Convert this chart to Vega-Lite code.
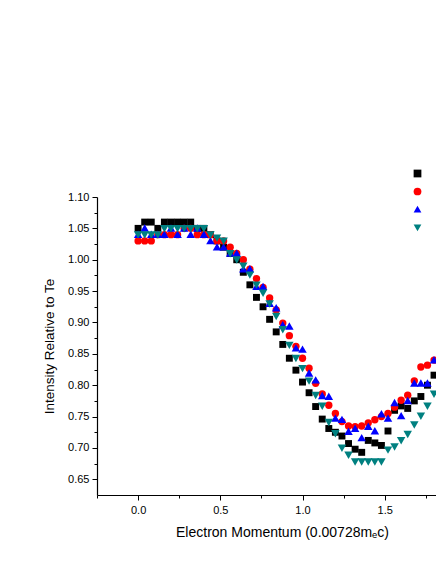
{
  "$schema": "https://vega.github.io/schema/vega-lite/v6.json",
  "autosize": {"type": "none"},
  "width": 339,
  "height": 298,
  "padding": {"left": 97, "top": 197, "right": 0, "bottom": 69},
  "background": "white",
  "config": {
    "view": {"stroke": null},
    "font": "Liberation Sans",
    "axis": {"grid": false, "domainColor": "#000000", "domainWidth": 1.2, "tickColor": "#000000", "tickWidth": 1, "labelColor": "#000000", "titleColor": "#000000", "labelFont": "Liberation Sans", "titleFont": "Liberation Sans", "labelFontSize": 11, "titleFontSize": 13.5, "titleFontWeight": "normal"},
    "legend": {"orient": "none", "legendX": 314, "legendY": -30, "title": null, "padding": 0, "rowPadding": 4, "labelFontSize": 13, "labelOffset": 45, "symbolStrokeWidth": 0, "symbolSize": 60}
  },
  "data": {"values": [
    {"series":"A","p":0,"i":1.05},{"series":"A","p":0.04,"i":1.06},{"series":"A","p":0.08,"i":1.06},{"series":"A","p":0.12,"i":1.05},{"series":"A","p":0.16,"i":1.06},{"series":"A","p":0.2,"i":1.06},{"series":"A","p":0.24,"i":1.06},{"series":"A","p":0.28,"i":1.06},{"series":"A","p":0.32,"i":1.06},{"series":"A","p":0.36,"i":1.05},{"series":"A","p":0.4,"i":1.05},{"series":"A","p":0.44,"i":1.04},{"series":"A","p":0.48,"i":1.03},{"series":"A","p":0.52,"i":1.02},{"series":"A","p":0.56,"i":1.01},{"series":"A","p":0.6,"i":1.0},{"series":"A","p":0.64,"i":0.98},{"series":"A","p":0.68,"i":0.96},{"series":"A","p":0.72,"i":0.94},{"series":"A","p":0.76,"i":0.925},{"series":"A","p":0.8,"i":0.905},{"series":"A","p":0.84,"i":0.885},{"series":"A","p":0.88,"i":0.865},{"series":"A","p":0.92,"i":0.843},{"series":"A","p":0.96,"i":0.824},{"series":"A","p":1.0,"i":0.805},{"series":"A","p":1.04,"i":0.788},{"series":"A","p":1.08,"i":0.766},{"series":"A","p":1.12,"i":0.746},{"series":"A","p":1.16,"i":0.731},{"series":"A","p":1.2,"i":0.725},{"series":"A","p":1.24,"i":0.719},{"series":"A","p":1.28,"i":0.707},{"series":"A","p":1.32,"i":0.698},{"series":"A","p":1.36,"i":0.693},{"series":"A","p":1.4,"i":0.712},{"series":"A","p":1.44,"i":0.708},{"series":"A","p":1.48,"i":0.704},{"series":"A","p":1.52,"i":0.727},{"series":"A","p":1.56,"i":0.76},{"series":"A","p":1.6,"i":0.767},{"series":"A","p":1.64,"i":0.763},{"series":"A","p":1.68,"i":0.775},{"series":"A","p":1.72,"i":0.782},{"series":"A","p":1.76,"i":0.8},{"series":"A","p":1.8,"i":0.816},
    {"series":"B","p":0,"i":1.03},{"series":"B","p":0.04,"i":1.03},{"series":"B","p":0.08,"i":1.03},{"series":"B","p":0.12,"i":1.04},{"series":"B","p":0.16,"i":1.04},{"series":"B","p":0.2,"i":1.04},{"series":"B","p":0.24,"i":1.04},{"series":"B","p":0.28,"i":1.05},{"series":"B","p":0.32,"i":1.05},{"series":"B","p":0.36,"i":1.04},{"series":"B","p":0.4,"i":1.04},{"series":"B","p":0.44,"i":1.04},{"series":"B","p":0.48,"i":1.03},{"series":"B","p":0.52,"i":1.03},{"series":"B","p":0.56,"i":1.02},{"series":"B","p":0.6,"i":1.01},{"series":"B","p":0.64,"i":1.0},{"series":"B","p":0.68,"i":0.985},{"series":"B","p":0.72,"i":0.97},{"series":"B","p":0.76,"i":0.956},{"series":"B","p":0.8,"i":0.939},{"series":"B","p":0.84,"i":0.92},{"series":"B","p":0.88,"i":0.899},{"series":"B","p":0.92,"i":0.879},{"series":"B","p":0.96,"i":0.862},{"series":"B","p":1.0,"i":0.843},{"series":"B","p":1.04,"i":0.827},{"series":"B","p":1.08,"i":0.803},{"series":"B","p":1.12,"i":0.786},{"series":"B","p":1.16,"i":0.768},{"series":"B","p":1.2,"i":0.755},{"series":"B","p":1.24,"i":0.742},{"series":"B","p":1.28,"i":0.735},{"series":"B","p":1.32,"i":0.734},{"series":"B","p":1.36,"i":0.735},{"series":"B","p":1.4,"i":0.74},{"series":"B","p":1.44,"i":0.745},{"series":"B","p":1.48,"i":0.75},{"series":"B","p":1.52,"i":0.755},{"series":"B","p":1.56,"i":0.765},{"series":"B","p":1.6,"i":0.776},{"series":"B","p":1.64,"i":0.784},{"series":"B","p":1.68,"i":0.807},{"series":"B","p":1.72,"i":0.829},{"series":"B","p":1.76,"i":0.832},{"series":"B","p":1.8,"i":0.84},
    {"series":"C","p":0,"i":1.04},{"series":"C","p":0.04,"i":1.05},{"series":"C","p":0.08,"i":1.04},{"series":"C","p":0.12,"i":1.04},{"series":"C","p":0.16,"i":1.04},{"series":"C","p":0.2,"i":1.05},{"series":"C","p":0.24,"i":1.04},{"series":"C","p":0.28,"i":1.05},{"series":"C","p":0.32,"i":1.04},{"series":"C","p":0.36,"i":1.05},{"series":"C","p":0.4,"i":1.04},{"series":"C","p":0.44,"i":1.03},{"series":"C","p":0.48,"i":1.02},{"series":"C","p":0.52,"i":1.02},{"series":"C","p":0.56,"i":1.01},{"series":"C","p":0.6,"i":1.01},{"series":"C","p":0.64,"i":0.985},{"series":"C","p":0.68,"i":0.985},{"series":"C","p":0.72,"i":0.957},{"series":"C","p":0.76,"i":0.957},{"series":"C","p":0.8,"i":0.93},{"series":"C","p":0.84,"i":0.923},{"series":"C","p":0.88,"i":0.896},{"series":"C","p":0.92,"i":0.894},{"series":"C","p":0.96,"i":0.859},{"series":"C","p":1.0,"i":0.857},{"series":"C","p":1.04,"i":0.819},{"series":"C","p":1.08,"i":0.808},{"series":"C","p":1.12,"i":0.783},{"series":"C","p":1.16,"i":0.782},{"series":"C","p":1.2,"i":0.747},{"series":"C","p":1.24,"i":0.745},{"series":"C","p":1.28,"i":0.726},{"series":"C","p":1.32,"i":0.731},{"series":"C","p":1.36,"i":0.716},{"series":"C","p":1.4,"i":0.734},{"series":"C","p":1.44,"i":0.727},{"series":"C","p":1.48,"i":0.754},{"series":"C","p":1.52,"i":0.747},{"series":"C","p":1.56,"i":0.772},{"series":"C","p":1.6,"i":0.751},{"series":"C","p":1.64,"i":0.775},{"series":"C","p":1.68,"i":0.803},{"series":"C","p":1.72,"i":0.803},{"series":"C","p":1.76,"i":0.803},{"series":"C","p":1.8,"i":0.84},
    {"series":"D","p":0,"i":1.04},{"series":"D","p":0.04,"i":1.04},{"series":"D","p":0.08,"i":1.04},{"series":"D","p":0.12,"i":1.04},{"series":"D","p":0.16,"i":1.05},{"series":"D","p":0.2,"i":1.05},{"series":"D","p":0.24,"i":1.05},{"series":"D","p":0.28,"i":1.05},{"series":"D","p":0.32,"i":1.05},{"series":"D","p":0.36,"i":1.05},{"series":"D","p":0.4,"i":1.05},{"series":"D","p":0.44,"i":1.04},{"series":"D","p":0.48,"i":1.035},{"series":"D","p":0.52,"i":1.03},{"series":"D","p":0.56,"i":1.01},{"series":"D","p":0.6,"i":1.0},{"series":"D","p":0.64,"i":0.99},{"series":"D","p":0.68,"i":0.976},{"series":"D","p":0.72,"i":0.96},{"series":"D","p":0.76,"i":0.947},{"series":"D","p":0.8,"i":0.93},{"series":"D","p":0.84,"i":0.91},{"series":"D","p":0.88,"i":0.889},{"series":"D","p":0.92,"i":0.864},{"series":"D","p":0.96,"i":0.843},{"series":"D","p":1.0,"i":0.827},{"series":"D","p":1.04,"i":0.807},{"series":"D","p":1.08,"i":0.784},{"series":"D","p":1.12,"i":0.767},{"series":"D","p":1.16,"i":0.741},{"series":"D","p":1.2,"i":0.723},{"series":"D","p":1.24,"i":0.7},{"series":"D","p":1.28,"i":0.689},{"series":"D","p":1.32,"i":0.678},{"series":"D","p":1.36,"i":0.678},{"series":"D","p":1.4,"i":0.678},{"series":"D","p":1.44,"i":0.678},{"series":"D","p":1.48,"i":0.678},{"series":"D","p":1.52,"i":0.697},{"series":"D","p":1.56,"i":0.702},{"series":"D","p":1.6,"i":0.712},{"series":"D","p":1.64,"i":0.722},{"series":"D","p":1.68,"i":0.737},{"series":"D","p":1.72,"i":0.751},{"series":"D","p":1.76,"i":0.767},{"series":"D","p":1.8,"i":0.786}
  ]},
  "resolve": {"axis": {"x": "independent", "y": "independent"}},
  "encoding": {
    "color": {"field": "series", "type": "nominal", "scale": {"domain": ["A", "B", "C", "D"], "range": ["#000000", "#ff0000", "#0000ff", "#008080"]}},
    "shape": {"field": "series", "type": "nominal", "scale": {"domain": ["A", "B", "C", "D"], "range": ["square", "circle", "M0,-0.95L-1,0.8L1,0.8Z", "M0,0.95L-1,-0.8L1,-0.8Z"]}}
  },
  "layer": [
    {
      "transform": [{"filter": "datum.series === 'A'"}],
      "mark": {"type": "point", "filled": true, "opacity": 1, "strokeWidth": 0, "size": 48},
      "encoding": {
        "x": {"field": "p", "type": "quantitative", "scale": {"domain": [-0.25, 1.812], "nice": false, "zero": false},
          "axis": {"orient": "bottom", "values": [0, 0.5, 1, 1.5], "format": ".1f", "tickSize": 5, "labelPadding": 4, "title": "Electron Momentum (0.00728mₑc)", "titleFontSize": 14, "titlePadding": 10, "titleX": 185}},
        "y": {"field": "i", "type": "quantitative", "scale": {"domain": [0.625, 1.1], "nice": false, "zero": false},
          "axis": {"orient": "left", "values": [0.65, 0.7, 0.75, 0.8, 0.85, 0.9, 0.95, 1.0, 1.05, 1.1], "format": ".2f", "tickSize": 5, "labelPadding": 3, "title": "Intensity Relative to Te", "titlePadding": 11}}
      }
    },
    {
      "transform": [{"filter": "datum.series === 'B'"}],
      "mark": {"type": "point", "filled": true, "opacity": 1, "strokeWidth": 0, "size": 54},
      "encoding": {
        "x": {"field": "p", "type": "quantitative",
          "axis": {"orient": "bottom", "values": [-0.25, 0.25, 0.75, 1.25, 1.75], "tickSize": 3, "labels": false, "domain": false, "title": null}},
        "y": {"field": "i", "type": "quantitative",
          "axis": {"orient": "left", "values": [0.675, 0.725, 0.775, 0.825, 0.875, 0.925, 0.975, 1.025, 1.075], "tickSize": 3, "labels": false, "domain": false, "title": null}}
      }
    },
    {
      "transform": [{"filter": "datum.series === 'C'"}],
      "mark": {"type": "point", "filled": true, "opacity": 1, "strokeWidth": 0, "size": 72},
      "encoding": {
        "x": {"field": "p", "type": "quantitative", "axis": null},
        "y": {"field": "i", "type": "quantitative", "axis": null}
      }
    },
    {
      "transform": [{"filter": "datum.series === 'D'"}],
      "mark": {"type": "point", "filled": true, "opacity": 1, "strokeWidth": 0, "size": 72},
      "encoding": {
        "x": {"field": "p", "type": "quantitative", "axis": null},
        "y": {"field": "i", "type": "quantitative", "axis": null}
      }
    }
  ]
}
